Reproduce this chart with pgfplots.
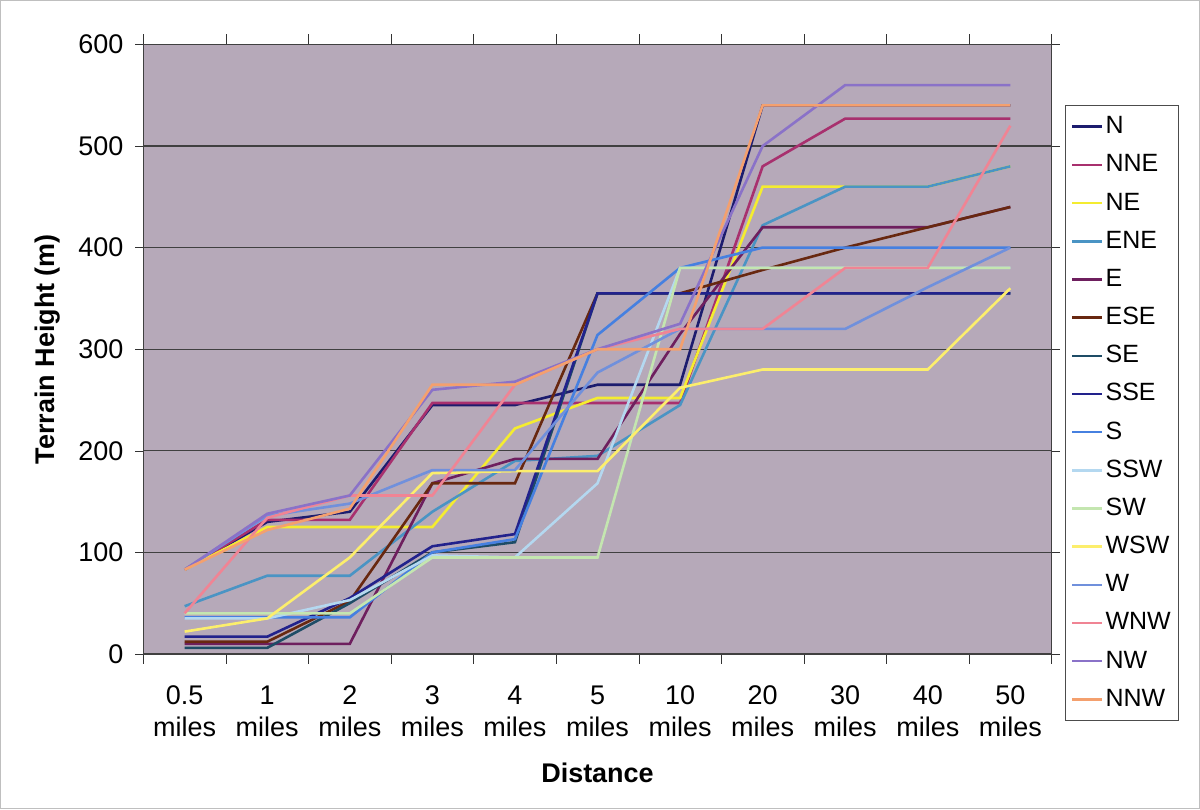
\documentclass[border=0pt]{standalone}
\usepackage{fontspec}
\setmainfont{Liberation Sans}
\usepackage{pgfplots}
\usepackage{pgfplotstable}
\pgfplotsset{compat=1.18}

\definecolor{plotbg}{HTML}{B6A9B9}
\definecolor{cN}{HTML}{1C1C6E}
\definecolor{cNNE}{HTML}{A8306E}
\definecolor{cNE}{HTML}{F4EC30}
\definecolor{cENE}{HTML}{4A94C4}
\definecolor{cE}{HTML}{6E1F5E}
\definecolor{cESE}{HTML}{682810}
\definecolor{cSE}{HTML}{1E4C66}
\definecolor{cSSE}{HTML}{22228C}
\definecolor{cS}{HTML}{4680E0}
\definecolor{cSSW}{HTML}{B4D8F0}
\definecolor{cSW}{HTML}{C4E6B0}
\definecolor{cWSW}{HTML}{FCEE6C}
\definecolor{cW}{HTML}{7090DC}
\definecolor{cWNW}{HTML}{F08494}
\definecolor{cNW}{HTML}{8A72C8}
\definecolor{cNNW}{HTML}{F4A06E}

% terrain height (m) per direction, x = distance category index
\pgfplotstableread{
x   N   NNE  NE  ENE  E   ESE  SE   SSE  S    SSW  SW   WSW  W    WNW  NW   NNW
0   83  83   83  47   10  12   6    17   36   35   40   22   83   40   83   83
1   130 132  125 77   10  12   6    17   36   35   40   35   136  134  138  122
2   140 132  125 77   10  52   50   55   36   53   40   95   148  156  156  143
3   245 247  125 140  168 168  100  106  100  97   95   178  181  156  260  265
4   245 247  222 190  192 168  110  118  113  95   95   180  181  265  268  265
5   265 247  252 195  192 355  355  355  314  168  95   180  277  300  300  300
6   265 247  252 245  315 355  355  355  380  380  380  262  320  320  325  300
7   540 480  460 422  420 378  355  355  400  380  380  280  320  320  500  540
8   540 527  460 460  420 400  355  355  400  380  380  280  320  380  560  540
9   540 527  460 460  420 420  355  355  400  380  380  280  361  380  560  540
10  540 527  480 480  440 440  355  355  400  380  380  360  400  520  560  540
}\terrain

\begin{document}
\begin{tikzpicture}[font=\fontsize{13.5}{16}\selectfont]
\begin{axis}[
    scale only axis,
    width=454.5pt, height=305pt,
    xmin=-0.5, xmax=10.5,
    ymin=0, ymax=600,
    ytick={0,100,...,600},
    xtick={0,...,10},
    xticklabels={0.5\\miles,1\\miles,2\\miles,3\\miles,4\\miles,5\\miles,10\\miles,20\\miles,30\\miles,40\\miles,50\\miles},
    xticklabel style={align=center, yshift=-8.5pt},
    yticklabel style={xshift=-2.5pt},
    minor xtick={-0.5,0.5,...,10.5},
    tick align=outside,
    major tick length=4pt,
    minor tick length=5pt,
    major x tick style={draw=none},
    tick style={black!80},
    ymajorgrids,
    grid style={black!75, line width=0.6pt},
    axis line style={black!75},
    axis background/.style={fill=plotbg},
    /pgf/number format/assume math mode=true,
    xlabel={\textbf{Distance}},
    ylabel={\textbf{Terrain Height (m)}},
    xlabel style={at={(axis description cs:0.5,-0.195)}, anchor=center},
    ylabel style={at={(axis description cs:-0.106,0.5)}, anchor=center},
    legend style={at={(1.0143,0.9)}, anchor=north west, draw=black!70, fill=white,
        row sep=5.1pt, inner xsep=3pt, inner ysep=3.5pt,
        nodes={inner sep=1pt, text height=9.5pt, text depth=2.5pt},
        font=\fontsize{12.5}{16}\selectfont},
    legend cell align=left,
    legend image code/.code={\draw[#1] (0pt,0pt) -- (15pt,0pt);},
    every axis plot/.append style={line width=1.3pt},
]
\addplot[cN]   table[x=x,y=N]   {\terrain};
\addplot[cNNE] table[x=x,y=NNE] {\terrain};
\addplot[cNE]  table[x=x,y=NE]  {\terrain};
\addplot[cENE] table[x=x,y=ENE] {\terrain};
\addplot[cE]   table[x=x,y=E]   {\terrain};
\addplot[cESE] table[x=x,y=ESE] {\terrain};
\addplot[cSE]  table[x=x,y=SE]  {\terrain};
\addplot[cSSE] table[x=x,y=SSE] {\terrain};
\addplot[cS]   table[x=x,y=S]   {\terrain};
\addplot[cSSW] table[x=x,y=SSW] {\terrain};
\addplot[cSW]  table[x=x,y=SW]  {\terrain};
\addplot[cWSW] table[x=x,y=WSW] {\terrain};
\addplot[cW]   table[x=x,y=W]   {\terrain};
\addplot[cWNW] table[x=x,y=WNW] {\terrain};
\addplot[cNW]  table[x=x,y=NW]  {\terrain};
\addplot[cNNW] table[x=x,y=NNW] {\terrain};
\legend{N,NNE,NE,ENE,E,ESE,SE,SSE,S,SSW,SW,WSW,W,WNW,NW,NNW}
\coordinate (bl) at (rel axis cs:-0.1573,-0.2541);
\coordinate (tr) at (rel axis cs:1.1628,1.0721);
\end{axis}
\draw[black!25, line width=0.5pt] (bl) rectangle (tr);
\end{tikzpicture}
\end{document}
